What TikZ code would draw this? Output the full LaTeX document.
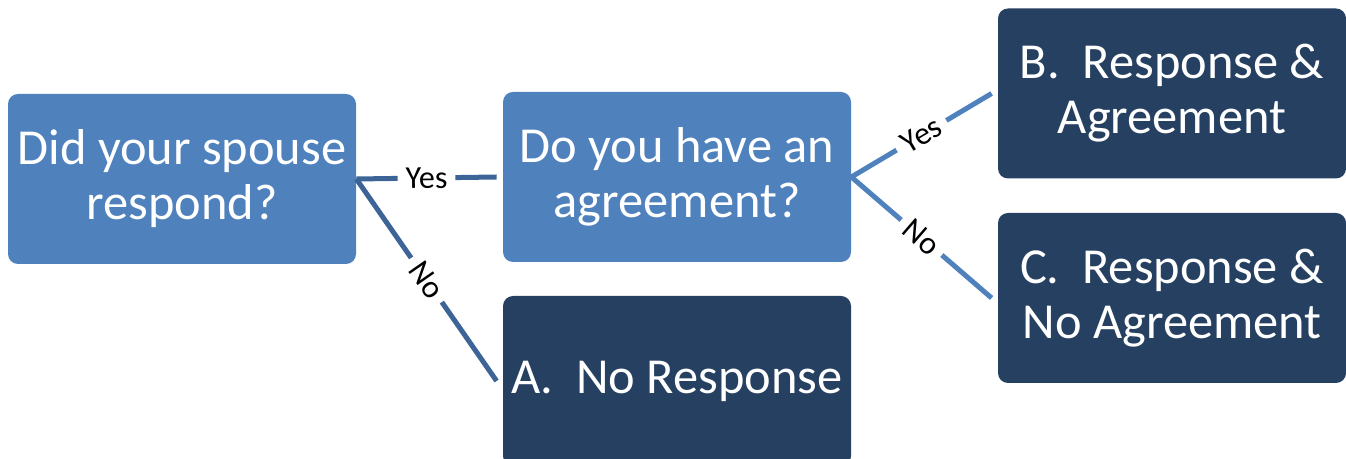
\documentclass[tikz,border=0pt]{standalone}
\usepackage{fontspec}
\setmainfont{Carlito}
\definecolor{boxblue}{HTML}{4F81BD}
\definecolor{boxnavy}{HTML}{264061}
\definecolor{linkblue}{HTML}{3C6496}
\begin{document}
\begin{tikzpicture}[x=0.5pt,y=-0.5pt,
        question/.style={rectangle, rounded corners=5pt, fill=boxblue, text=white, minimum width=174pt, minimum height=85pt, align=center, font=\fontsize{25.2}{27.5}\selectfont},
        outcome/.style={question, fill=boxnavy},
        branch/.style={line width=2.5pt, draw=#1},
        branch/.default=boxblue,
        answer/.style={fill=white, inner xsep=4pt, inner ysep=0pt, sloped, font=\fontsize{16}{16}\selectfont}]
        \useasboundingbox (0,0) rectangle (1346,459);
        \clip (0,0) rectangle (1346,459);
        \node[question] (spouse) at (182,179) {Did your spouse\\respond?};
        \node[question] (agree) at (677,177) {Do you have an\\agreement?};
        \node[outcome] (none) at (677,381) {A.~~No Response};
        \node[outcome] (both) at (1172,93.5) {B.~~Response \&\\Agreement};
        \node[outcome] (split) at (1172,298) {C.~~Response \&\\No Agreement};
        \draw[branch=linkblue] (spouse.east) -- node[answer] {Yes} ([xshift=-3pt]agree.west);
        \draw[branch=linkblue] (spouse.east) -- node[answer] {No} ([xshift=-3pt]none.west);
        \draw[branch] (agree.east) -- node[answer] {Yes} ([xshift=-3pt]both.west);
        \draw[branch] (agree.east) -- node[answer] {No} ([xshift=-3pt]split.west);
\end{tikzpicture}
\end{document}
